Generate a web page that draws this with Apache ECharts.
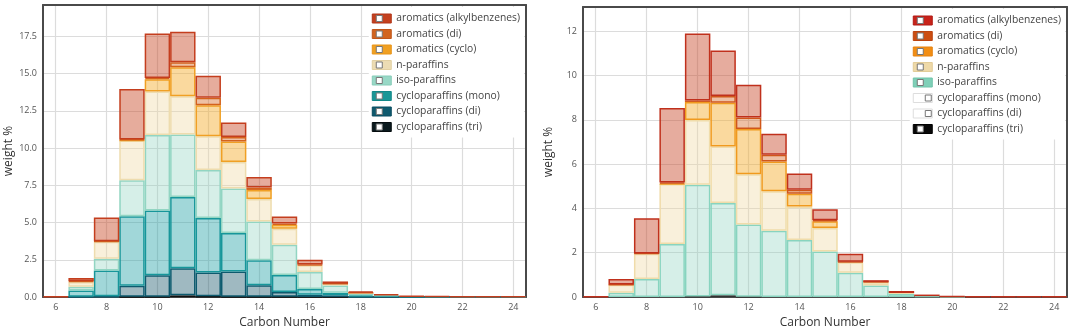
<!DOCTYPE html>
<html>
<head>
<meta charset="utf-8">
<script src="https://cdn.jsdelivr.net/npm/echarts@6/dist/echarts.min.js"></script>
<style>
    html, body { margin: 0; padding: 0; background: #fff; }
    #chart { width: 1072px; height: 334px; }
</style>
</head>
<body>
<div id="chart"></div>
<script>
// carbon numbers on the x axis
const carbonNumbers = [6, 7, 8, 9, 10, 11, 12, 13, 14, 15, 16, 17, 18, 19, 20, 21, 22, 23, 24];

// legend order (top to bottom)
const legendNames = [
    'aromatics (alkylbenzenes)',
    'aromatics (di)',
    'aromatics (cyclo)',
    'n-paraffins',
    'iso-paraffins',
    'cycloparaffins (mono)',
    'cycloparaffins (di)',
    'cycloparaffins (tri)',
];

// left panel, weight % per carbon number
const leftAlkyl  = [0.05, 0.22, 1.60, 3.38, 2.98, 2.05, 1.47, 0.96, 0.71, 0.47, 0.32, 0.15, 0.08, 0.07, 0.04, 0.04, 0.04, 0.04, 0.04];
const leftDiArom = [0, 0.05, 0.02, 0.06, 0.08, 0.33, 0.51, 0.31, 0.16, 0.09, 0.05, 0.01, 0.02, 0, 0, 0, 0, 0, 0];
const leftCyclo  = [0, 0, 0, 0.02, 0.82, 1.96, 2.07, 1.38, 0.60, 0.26, 0, 0, 0, 0, 0, 0, 0, 0, 0];
const leftNPar   = [0, 0.33, 1.14, 2.66, 2.93, 2.56, 2.27, 1.78, 1.51, 1.08, 0.45, 0.11, 0.03, 0, 0, 0, 0, 0, 0];
const leftIsoPar = [0, 0.25, 0.80, 2.41, 5.06, 4.19, 3.23, 2.98, 2.61, 2.03, 1.13, 0.49, 0.12, 0.03, 0, 0, 0, 0, 0];
const leftMono   = [0, 0.42, 1.73, 4.67, 4.34, 4.78, 3.65, 2.59, 1.67, 1.13, 0.40, 0.17, 0.10, 0.08, 0.02, 0.01, 0.01, 0.01, 0.01];
const leftDi     = [0, 0.02, 0.05, 0.74, 1.44, 1.82, 1.60, 1.68, 0.78, 0.33, 0.14, 0.11, 0.03, 0.02, 0.01, 0.01, 0, 0, 0];
const leftTri    = [0, 0, 0, 0.02, 0.03, 0.12, 0.05, 0.03, 0.02, 0.02, 0.01, 0.01, 0, 0, 0, 0, 0, 0, 0];

// right panel
const rightAlkyl  = [0.03, 0.25, 1.59, 3.37, 3.02, 2.06, 1.48, 0.95, 0.73, 0.49, 0.36, 0.08, 0.09, 0.07, 0.03, 0.03, 0.03, 0.03, 0.03];
const rightDiArom = [0, 0.01, 0.02, 0.05, 0.07, 0.30, 0.52, 0.31, 0.19, 0.05, 0.02, 0.01, 0, 0, 0, 0, 0, 0, 0];
const rightCyclo  = [0, 0, 0, 0.02, 0.81, 1.98, 2.04, 1.34, 0.57, 0.30, 0, 0, 0, 0, 0, 0, 0, 0, 0];
const rightNPar   = [0, 0.36, 1.14, 2.71, 2.93, 2.55, 2.28, 1.79, 1.51, 1.07, 0.47, 0.15, 0.03, 0, 0, 0, 0, 0, 0];
const rightIsoPar = [0, 0.19, 0.81, 2.39, 5.05, 4.17, 3.26, 2.99, 2.58, 2.05, 1.10, 0.52, 0.15, 0.04, 0.01, 0, 0, 0, 0];
const rightMono   = [0, 0, 0, 0, 0, 0, 0, 0, 0, 0, 0, 0, 0, 0, 0, 0, 0, 0, 0];
const rightDi     = [0, 0, 0, 0, 0, 0, 0, 0, 0, 0, 0, 0, 0, 0, 0, 0, 0, 0, 0];
const rightTri    = [0, 0, 0, 0, 0.02, 0.08, 0.01, 0, 0, 0, 0, 0, 0, 0, 0, 0, 0, 0, 0];

const FONT = 'Open Sans';
// frame of each plot is drawn with axis lines
const FRAME = { show: true, onZero: false, lineStyle: { color: '#4a4a4a', width: 2 } };

// bar styles [border, fill], same order as legendNames
const leftBarStyles = [
    ['#c43e1e', 'rgba(200, 70, 35, 0.45)'],
    ['#d4621c', 'rgba(212, 98, 28, 0.40)'],
    ['#f0a024', 'rgba(245, 170, 40, 0.45)'],
    ['#eedcae', 'rgba(238, 215, 160, 0.38)'],
    ['#92d5c2', 'rgba(140, 210, 190, 0.36)'],
    ['#17969a', 'rgba(30, 160, 165, 0.42)'],
    ['#0d5a6e', 'rgba(15, 80, 100, 0.40)'],
    ['#111111', 'rgba(0, 0, 0, 0.60)'],
];
const rightBarStyles = [
    ['#c0301c', 'rgba(200, 70, 40, 0.45)'],
    ['#d0561a', 'rgba(212, 98, 28, 0.40)'],
    ['#f09a1e', 'rgba(245, 170, 40, 0.45)'],
    ['#f0dcaa', 'rgba(238, 215, 160, 0.38)'],
    ['#88d4bf', 'rgba(140, 210, 190, 0.36)'],
    ['#17969a', 'rgba(30, 160, 165, 0.42)'],
    ['#0d5a6e', 'rgba(15, 80, 100, 0.40)'],
    ['#333333', 'rgba(40, 40, 40, 0.85)'],
];

// legend icon colors [fill, border]
const leftIconColors = [
    ['#c4401e', '#b03418'], ['#d2641e', '#c0561a'], ['#f0a022', '#e89418'], ['#ecdcb4', '#e2d0a2'],
    ['#98d8c6', '#86ccb8'], ['#1a9797', '#128888'], ['#0f5a6e', '#0a4c60'], ['#0b1a1e', '#050c0e'],
];
const rightIconColors = [
    ['#c8231a', '#b01a14'], ['#cc4e12', '#bb4410'], ['#f28e14', '#e48210'], ['#eed9a8', '#e2cc98'],
    ['#7fd0b8', '#70c4aa'], ['#ffffff', '#dddddd'], ['#ffffff', '#dddddd'], ['#080808', '#000000'],
];

/**
 * 生成一个面板的堆叠柱状序列，0 值不画（避免出现多余的边框线）
 */
function makePanelSeries(panel, valuesTopDown, styles) {
    const series = [];
    // stack from bottom (tri) to top (alkylbenzenes)
    for (let i = legendNames.length - 1; i >= 0; i--) {
        series.push({
            name: legendNames[i],
            type: 'bar',
            xAxisIndex: panel * 2,
            yAxisIndex: panel * 2,
            stack: 'panel' + panel,
            barWidth: '100%',
            data: valuesTopDown[i].map(v => (v === 0 ? '-' : v)),
            itemStyle: {
                color: styles[i][1],
                borderColor: styles[i][0],
                borderWidth: 1.5,
            },
            emphasis: { disabled: true },
        });
    }
    return series;
}

/**
 * 图例：一个带白底的主图例，上面再叠一个只画小白方块的图例
 */
function makeLegends(top, right, iconColors, squareOffsets) {
    const textStyle = { fontFamily: FONT, fontSize: 10.3, color: '#444', lineHeight: 13 };
    const common = {
        orient: 'vertical',
        top: top,
        itemGap: 2.5,
        padding: [5, 4, 4, 3],
        selectedMode: false,
    };
    const main = Object.assign({}, common, {
        right: right,
        itemWidth: 19,
        itemHeight: 9,
        backgroundColor: '#fff',
        textStyle: textStyle,
        data: legendNames.map((n, i) => ({
            name: n,
            icon: 'rect',
            itemStyle: { color: iconColors[i][0], borderColor: iconColors[i][1], borderWidth: 1 },
        })),
    });
    const legends = [main];
    // small squares, grouped by their x offset inside the icon
    const offsets = Array.from(new Set(squareOffsets));
    offsets.forEach(off => {
        legends.push(Object.assign({}, common, {
            right: right + 13 - off,
            itemWidth: 6,
            itemHeight: 6,
            z: 5,
            textStyle: Object.assign({}, textStyle, { color: 'rgba(0,0,0,0)' }),
            data: legendNames.map((n, i) => ({
                name: n,
                icon: 'rect',
                itemStyle: squareOffsets[i] === off
                    ? { color: '#fff', borderColor: '#777', borderWidth: 1 }
                    : { color: 'rgba(0,0,0,0)', borderColor: 'rgba(0,0,0,0)', borderWidth: 0 },
            })),
        }));
    });
    return legends;
}

function makeXAxes(gridIndex, nameGap) {
    return [
        {
            // bars sit on this one, its line is the top of the frame
            type: 'category',
            gridIndex: gridIndex,
            data: carbonNumbers,
            position: 'top',
            axisLine: FRAME,
            axisTick: { show: false },
            axisLabel: { show: false },
            splitLine: { show: false },
        },
        {
            type: 'value',
            gridIndex: gridIndex,
            position: 'bottom',
            min: 5.5,
            max: 24.5,
            minInterval: 2,
            maxInterval: 2,
            name: 'Carbon Number',
            nameLocation: 'middle',
            nameGap: nameGap,
            nameTextStyle: { fontFamily: FONT, fontSize: 12, color: '#333' },
            axisLine: FRAME,
            axisTick: { show: false },
            axisLabel: {
                margin: 6,
                fontFamily: FONT,
                fontSize: 9,
                color: '#555',
                formatter: v => (Number.isInteger(v) ? String(v) : ''),
            },
            splitLine: {
                show: true,
                showMinLine: false,
                showMaxLine: false,
                lineStyle: { color: '#dcdcdc', width: 1.2 },
            },
        },
    ];
}

function makeYAxes(gridIndex, max, interval, decimals) {
    return [
        {
            type: 'value',
            gridIndex: gridIndex,
            position: 'left',
            min: 0,
            max: max,
            interval: interval,
            name: 'weight %',
            nameLocation: 'middle',
            nameGap: 28,
            nameTextStyle: { fontFamily: FONT, fontSize: 12, color: '#333' },
            axisLine: FRAME,
            axisTick: { show: false },
            axisLabel: {
                margin: 6,
                fontFamily: FONT,
                fontSize: 9,
                color: '#555',
                showMaxLabel: false,
                formatter: v => v.toFixed(decimals),
            },
            splitLine: {
                show: true,
                showMinLine: false,
                showMaxLine: false,
                lineStyle: { color: '#dcdcdc', width: 1.2 },
            },
        },
        {
            // right side of the frame only
            type: 'value',
            gridIndex: gridIndex,
            position: 'right',
            min: 0,
            max: max,
            axisLine: FRAME,
            axisTick: { show: false },
            axisLabel: { show: false },
            splitLine: { show: false },
        },
    ];
}

function drawChart() {
    const chart = echarts.init(document.getElementById('chart'));
    const leftValues = [leftAlkyl, leftDiArom, leftCyclo, leftNPar, leftIsoPar, leftMono, leftDi, leftTri];
    const rightValues = [rightAlkyl, rightDiArom, rightCyclo, rightNPar, rightIsoPar, rightMono, rightDi, rightTri];

    const option = {
        animation: false,
        backgroundColor: '#fff',
        grid: [
            { left: 43, top: 5, width: 483, height: 294 },
            { left: 583, top: 7, width: 484, height: 294 },
        ],
        legend: [].concat(
            makeLegends(7, 548, leftIconColors, [4, 4, 4, 4, 4, 4, 4, 4]),
            makeLegends(9, 7, rightIconColors, [4, 4, 4, 4, 4, 12, 12, 4])
        ),
        xAxis: [].concat(makeXAxes(0, 19), makeXAxes(1, 20)),
        yAxis: [].concat(makeYAxes(0, 19.6, 2.5, 1), makeYAxes(1, 13.1, 2, 0)),
        series: [].concat(
            makePanelSeries(0, leftValues, leftBarStyles),
            makePanelSeries(1, rightValues, rightBarStyles)
        ),
    };
    chart.setOption(option);
    return chart;
}

drawChart();
</script>
</body>
</html>
